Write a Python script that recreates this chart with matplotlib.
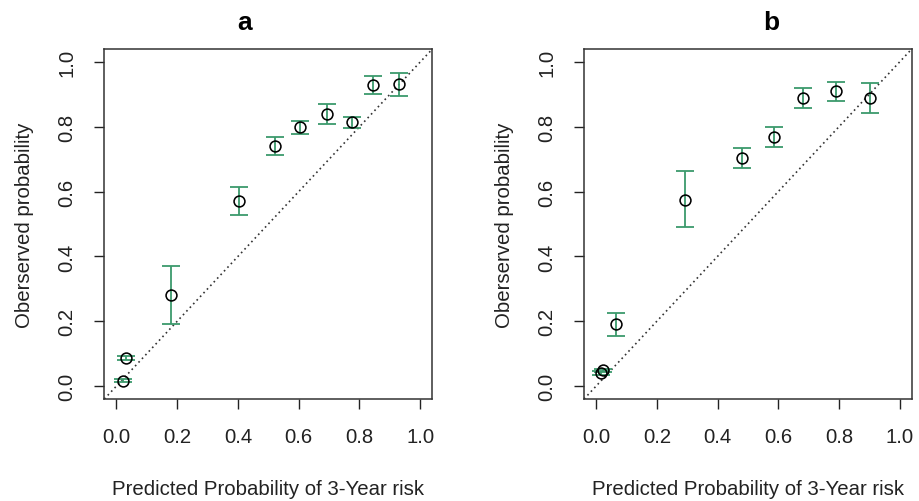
import matplotlib
matplotlib.use("Agg")
import matplotlib.pyplot as plt

plt.rcParams['font.family'] = ['Liberation Sans', 'DejaVu Sans']

# panel a
pred_a = [0.021, 0.033, 0.180, 0.405, 0.521, 0.605, 0.692, 0.774, 0.844, 0.931]
obs_a = [0.017, 0.086, 0.282, 0.570, 0.742, 0.798, 0.839, 0.814, 0.928, 0.931]
low_a = [0.011, 0.079, 0.192, 0.527, 0.714, 0.777, 0.810, 0.796, 0.901, 0.894]
high_a = [0.023, 0.093, 0.369, 0.614, 0.769, 0.819, 0.869, 0.829, 0.956, 0.965]

# panel b
pred_b = [0.016, 0.024, 0.066, 0.293, 0.482, 0.585, 0.683, 0.790, 0.901]
obs_b = [0.040, 0.048, 0.190, 0.575, 0.705, 0.767, 0.889, 0.910, 0.889]
low_b = [0.035, 0.043, 0.154, 0.490, 0.673, 0.738, 0.858, 0.881, 0.844]
high_b = [0.045, 0.053, 0.226, 0.662, 0.735, 0.799, 0.920, 0.939, 0.936]

ticks = [0.0, 0.2, 0.4, 0.6, 0.8, 1.0]
tick_labels = ["0.0", "0.2", "0.4", "0.6", "0.8", "1.0"]

GREEN = "#3c9a6c"
TXT = "#222222"

fig = plt.figure(figsize=(9.19, 5.02), dpi=100)


def draw_panel(rect, pred, obs, low, high, title, title_x):
    ax = fig.add_axes(rect)
    lims = (-0.04, 1.04)
    # reference diagonal
    ax.plot(lims, lims, linestyle=(0, (1, 2)), color="#333333", linewidth=1.2, zorder=1)
    yerr = [[o - l for o, l in zip(obs, low)], [h - o for o, h in zip(obs, high)]]
    ax.errorbar(pred, obs, yerr=yerr, fmt="none", ecolor=GREEN, elinewidth=1.3,
                capsize=6.3, capthick=1.3, zorder=2)
    ax.plot(pred, obs, "o", mfc="none", mec="black", ms=7.8, mew=1.15, zorder=3)
    ax.set_xlim(lims)
    ax.set_ylim(lims)
    ax.set_xticks(ticks)
    ax.set_xticklabels(tick_labels)
    ax.set_yticks(ticks)
    ax.set_yticklabels(tick_labels, rotation=90, va="center")
    ax.tick_params(direction="out", length=7, width=1.0, labelsize=14.6, pad=13,
                   colors=TXT)
    for s in ax.spines.values():
        s.set_linewidth(1.1)
        s.set_color("#333333")
    ax.set_xlabel("Predicted Probability of 3-Year risk", fontsize=14.7, labelpad=24,
                  color=TXT)
    ax.set_ylabel("Oberserved probability", fontsize=14.7, labelpad=17, color=TXT)
    fig.text(title_x, 0.955, title, fontsize=19, fontweight="bold", ha="center", va="center")
    return ax


draw_panel([0.1135, 0.2032, 0.357, 0.6972], pred_a, obs_a, low_a, high_a, "a", 0.2666)
draw_panel([0.6355, 0.2032, 0.3566, 0.6972], pred_b, obs_b, low_b, high_b, "b", 0.8395)

fig.savefig("out.png", dpi=100)
